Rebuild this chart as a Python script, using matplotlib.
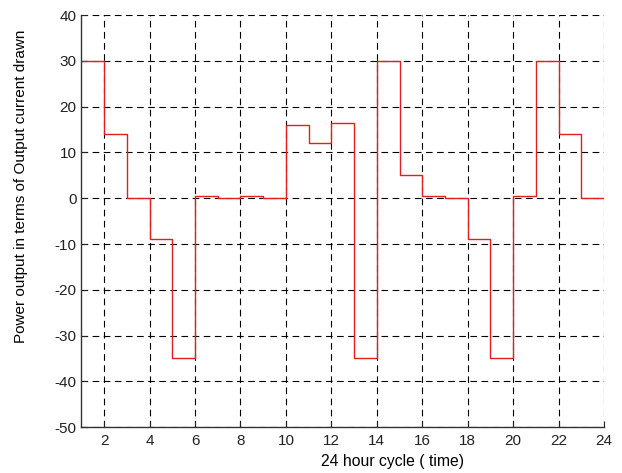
import matplotlib
matplotlib.use("Agg")
import matplotlib.pyplot as plt
import numpy as np

plt.rcParams['font.family'] = ['Liberation Sans', 'DejaVu Sans']
plt.rcParams['axes.unicode_minus'] = False

hours = list(range(1, 25))
power = [30, 14, 0, -9, -35, 0.5, 0, 0.5, 0, 16, 12, 16.5, -35, 30, 5, 0.5, 0, -9, -35, 0.5, 30, 14, 0]
power_step = power + [power[-1]]

xticks = list(range(2, 25, 2))
yticks = list(range(-50, 41, 10))

fig = plt.figure(figsize=(6.22, 4.73), dpi=100)
ax = fig.add_axes([0.131, 0.097, 0.84, 0.871])
ax.step(hours, power_step, where='post', color='#e02020', linewidth=1.0)
ax.set_xlim(1, 24)
ax.set_ylim(-50, 40)
ax.set_xticks(xticks)
ax.set_yticks(yticks)
ax.grid(True, color='black', linestyle=(0, (6, 4)), linewidth=0.8)
for s in ['top', 'right']:
    ax.spines[s].set_visible(False)
for s in ['left', 'bottom']:
    ax.spines[s].set_linewidth(1.0)
    ax.spines[s].set_color('#333333')
ax.tick_params(direction='in', length=4, labelsize=11, colors='#222222')
ax.tick_params(axis='x', pad=5)
ax.set_xlabel('24 hour cycle ( time)', fontsize=11.3, va='center')
ax.set_ylabel('Power output in terms of Output current drawn', fontsize=11, va='center')
ax.xaxis.set_label_coords(0.595, -0.083)
ax.yaxis.set_label_coords(-0.115, 0.585)
fig.savefig('out.png', dpi=100)
